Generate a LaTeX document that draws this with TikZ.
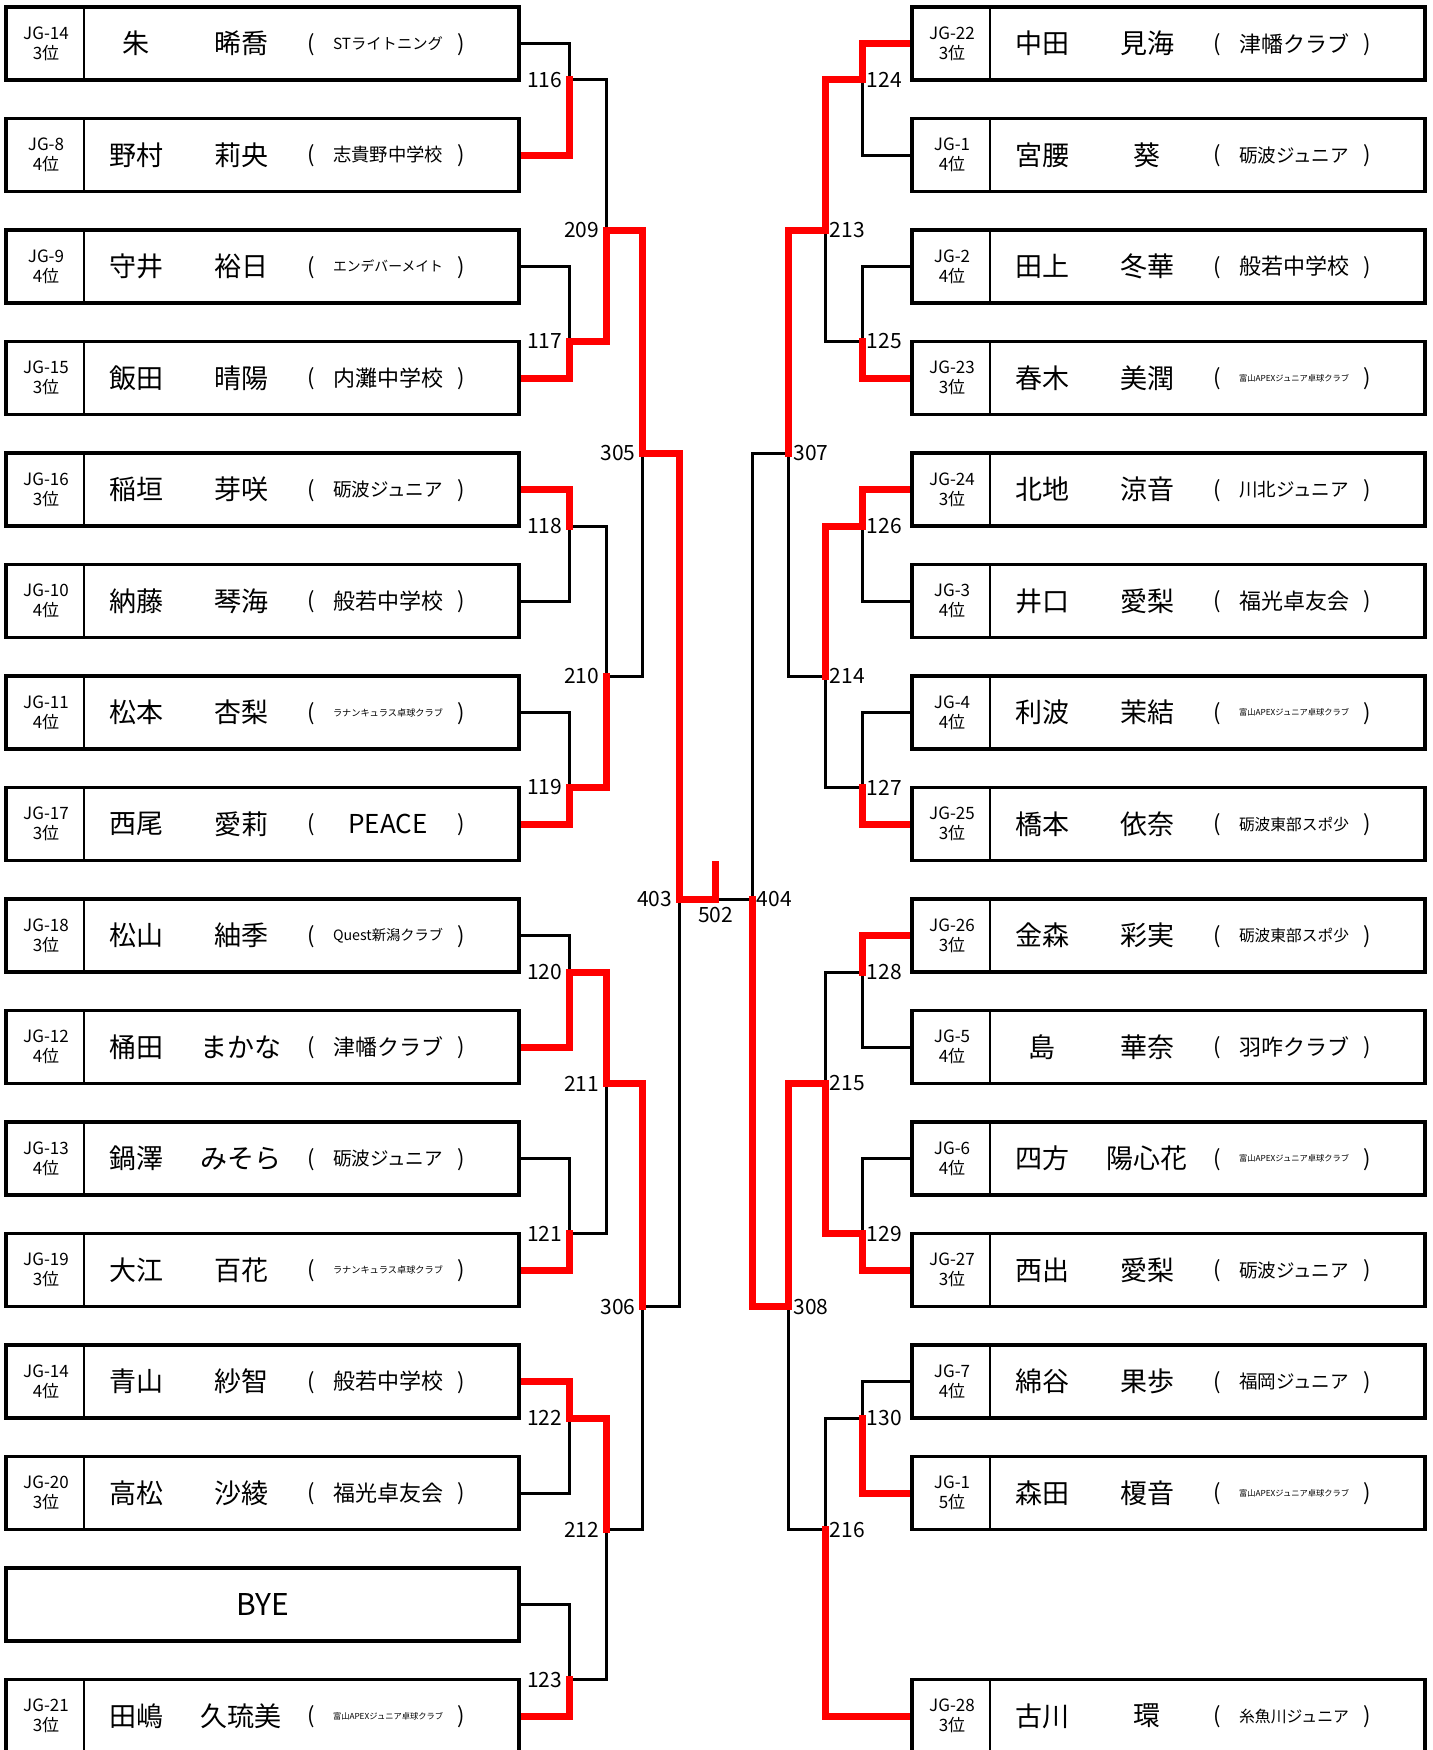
\documentclass[tikz,border=0pt]{standalone}
\usepackage{fontspec}
\setmainfont{Noto Sans CJK JP}
\usepackage{graphicx}
\usetikzlibrary{calc}
\pgfdeclarelayer{bg}
\pgfsetlayers{bg,main}
\newsavebox\clubsbox
\newlength\clubmaxw
\setlength\clubmaxw{55pt}
\newcommand\clubfit[1]{\sbox\clubsbox{#1}\ifdim\wd\clubsbox>\clubmaxw\resizebox{\clubmaxw}{!}{\usebox\clubsbox}\else\usebox\clubsbox\fi}
\newcommand\plbox[8]{%
  \node[pbox] (#3) at ({#1+256.5},#2) {};
  \draw[divline] ([xshift=39pt]#3.north west) -- ([xshift=39pt]#3.south west);
  \node[jgtext] (#3jg) at ({#1+40},#2) {#4\\#5};
  \node[nametext] (#3sur) at ({#1+130},#2) {#6};
  \node[nametext] (#3giv) at ({#1+235},#2) {#7};
  \node[parentext] (#3lp) at ({#1+305},{#2+1}) {(};
  \node[parentext] (#3rp) at ({#1+455},{#2+1}) {)};
  \node[clubtext] (#3club) at ({#1+382},#2) {\clubfit{#8}};
}
\begin{document}
\begin{tikzpicture}[x=0.5pt,y=-0.5pt,
  pbox/.style={draw, line width=1.75pt, minimum width=256.5pt, minimum height=36.5pt, inner sep=0pt, outer sep=0pt, fill=white},
  divline/.style={line width=0.75pt},
  jgtext/.style={align=center, inner sep=0pt, font=\fontsize{8.5}{10}\selectfont},
  nametext/.style={inner sep=0pt, font=\fontsize{13.5}{15}\selectfont},
  parentext/.style={inner sep=0pt, font=\fontsize{11}{13}\selectfont},
  clubtext/.style={inner sep=0pt, font=\fontsize{13}{15}\selectfont},
  byetext/.style={inner sep=0pt, font=\fontsize{15}{17}\selectfont},
  lose/.style={line width=1.5pt, black, line cap=rect},
  win/.style={line width=3.5pt, red, line cap=rect, line join=miter},
  lblL/.style={anchor=east, inner sep=0pt, xshift=-3.25pt, font=\fontsize{10.5}{12}\selectfont},
  lblR/.style={anchor=west, inner sep=0pt, xshift=2.25pt, font=\fontsize{10.5}{12}\selectfont}]
\useasboundingbox (0,0) rectangle (1432,1750);
% left side
\plbox{6}{43.5}{L1}{JG-14}{3位}{朱}{晞喬}{STライトニング}
\plbox{6}{155}{L2}{JG-8}{4位}{野村}{莉央}{志貴野中学校}
\plbox{6}{266.5}{L3}{JG-9}{4位}{守井}{裕日}{エンデバーメイト}
\plbox{6}{378}{L4}{JG-15}{3位}{飯田}{晴陽}{内灘中学校}
\plbox{6}{489.5}{L5}{JG-16}{3位}{稲垣}{芽咲}{砺波ジュニア}
\plbox{6}{601}{L6}{JG-10}{4位}{納藤}{琴海}{般若中学校}
\plbox{6}{712.5}{L7}{JG-11}{4位}{松本}{杏梨}{ラナンキュラス卓球クラブ}
\plbox{6}{824}{L8}{JG-17}{3位}{西尾}{愛莉}{PEACE}
\plbox{6}{935.5}{L9}{JG-18}{3位}{松山}{紬季}{Quest新潟クラブ}
\plbox{6}{1047}{L10}{JG-12}{4位}{桶田}{まかな}{津幡クラブ}
\plbox{6}{1158.5}{L11}{JG-13}{4位}{鍋澤}{みそら}{砺波ジュニア}
\plbox{6}{1270}{L12}{JG-19}{3位}{大江}{百花}{ラナンキュラス卓球クラブ}
\plbox{6}{1381.5}{L13}{JG-14}{4位}{青山}{紗智}{般若中学校}
\plbox{6}{1493}{L14}{JG-20}{3位}{高松}{沙綾}{福光卓友会}
\node[pbox] (L15) at (262.5,1604.5) {};
\node[byetext] (L15t) at (L15) {BYE};
\plbox{6}{1716}{L16}{JG-21}{3位}{田嶋}{久琉美}{富山APEXジュニア卓球クラブ}
% right side
\plbox{912}{43.5}{R1}{JG-22}{3位}{中田}{見海}{津幡クラブ}
\plbox{912}{155}{R2}{JG-1}{4位}{宮腰}{葵}{砺波ジュニア}
\plbox{912}{266.5}{R3}{JG-2}{4位}{田上}{冬華}{般若中学校}
\plbox{912}{378}{R4}{JG-23}{3位}{春木}{美潤}{富山APEXジュニア卓球クラブ}
\plbox{912}{489.5}{R5}{JG-24}{3位}{北地}{涼音}{川北ジュニア}
\plbox{912}{601}{R6}{JG-3}{4位}{井口}{愛梨}{福光卓友会}
\plbox{912}{712.5}{R7}{JG-4}{4位}{利波}{茉結}{富山APEXジュニア卓球クラブ}
\plbox{912}{824}{R8}{JG-25}{3位}{橋本}{依奈}{砺波東部スポ少}
\plbox{912}{935.5}{R9}{JG-26}{3位}{金森}{彩実}{砺波東部スポ少}
\plbox{912}{1047}{R10}{JG-5}{4位}{島}{華奈}{羽咋クラブ}
\plbox{912}{1158.5}{R11}{JG-6}{4位}{四方}{陽心花}{富山APEXジュニア卓球クラブ}
\plbox{912}{1270}{R12}{JG-27}{3位}{西出}{愛梨}{砺波ジュニア}
\plbox{912}{1381.5}{R13}{JG-7}{4位}{綿谷}{果歩}{福岡ジュニア}
\plbox{912}{1493}{R14}{JG-1}{5位}{森田}{榎音}{富山APEXジュニア卓球クラブ}
\plbox{912}{1716}{R16}{JG-28}{3位}{古川}{環}{糸魚川ジュニア}
% junctions
\coordinate (m116) at (569,80);
\coordinate (m117) at (569,341.5);
\coordinate (m118) at (569,526);
\coordinate (m119) at (569,787.5);
\coordinate (m120) at (569,972);
\coordinate (m121) at (569,1233.5);
\coordinate (m122) at (569,1418);
\coordinate (m123) at (569,1679.5);
\coordinate (m209) at (606,230);
\coordinate (m210) at (606,676);
\coordinate (m211) at (606,1083.5);
\coordinate (m212) at (606,1529.5);
\coordinate (m305) at (642.5,453);
\coordinate (m306) at (642.5,1306.5);
\coordinate (m403) at (679,899);
\coordinate (f502) at (715.5,899);
\coordinate (f502top) at (715.5,864);
\coordinate (m124) at (862,80);
\coordinate (m125) at (862,341.5);
\coordinate (m126) at (862,526);
\coordinate (m127) at (862,787.5);
\coordinate (m128) at (862,972);
\coordinate (m129) at (862,1233.5);
\coordinate (m130) at (862,1418);
\coordinate (m213) at (825,230);
\coordinate (m214) at (825,676);
\coordinate (m215) at (825,1083.5);
\coordinate (m216) at (825,1529.5);
\coordinate (m307) at (788.5,453);
\coordinate (m308) at (788.5,1306.5);
\coordinate (m404) at (752,899);
% labels
\foreach \n in {116,117,118,119,120,121,122,123,209,210,211,212,305,306,403}
  \node[lblL] (t\n) at (m\n) {\n};
\foreach \n in {124,125,126,127,128,129,130,213,214,215,216,307,308,404}
  \node[lblR] (t\n) at (m\n) {\n};
\node[anchor=north, inner sep=0pt, yshift=-4pt, font=\fontsize{10.5}{12}\selectfont] (t502) at (f502) {502};
\begin{pgfonlayer}{bg}
% losing lines
\draw[lose] (L1.east) -| (m116);
\draw[lose] (L3.east) -| (m117);
\draw[lose] (L6.east) -| (m118);
\draw[lose] (L7.east) -| (m119);
\draw[lose] (L9.east) -| (m120);
\draw[lose] (L11.east) -| (m121);
\draw[lose] (L14.east) -| (m122);
\draw[lose] (L15.east) -| (m123);
\draw[lose] (m116) -| (m209);
\draw[lose] (m118) -| (m210);
\draw[lose] (m121) -| (m211);
\draw[lose] (m123) -| (m212);
\draw[lose] (m210) -| (m305);
\draw[lose] (m212) -| (m306);
\draw[lose] (m306) -| (m403);
\draw[lose] (R2.west) -| (m124);
\draw[lose] (R3.west) -| (m125);
\draw[lose] (R6.west) -| (m126);
\draw[lose] (R7.west) -| (m127);
\draw[lose] (R10.west) -| (m128);
\draw[lose] (R11.west) -| (m129);
\draw[lose] (R13.west) -| (m130);
\draw[lose] (m125) -| (m213);
\draw[lose] (m127) -| (m214);
\draw[lose] (m128) -| (m215);
\draw[lose] (m130) -| (m216);
\draw[lose] (m214) -| (m307);
\draw[lose] (m216) -| (m308);
\draw[lose] (m307) -| (m404);
\draw[lose] (m404) -- (f502);
% winning lines
\draw[win] (L2.east) -| (m116);
\draw[win] (L4.east) -| (m117);
\draw[win] (L5.east) -| (m118);
\draw[win] (L8.east) -| (m119);
\draw[win] (L10.east) -| (m120);
\draw[win] (L12.east) -| (m121);
\draw[win] (L13.east) -| (m122);
\draw[win] (L16.east) -| (m123);
\draw[win] (m117) -| (m209);
\draw[win] (m119) -| (m210);
\draw[win] (m120) -| (m211);
\draw[win] (m122) -| (m212);
\draw[win] (m209) -| (m305);
\draw[win] (m211) -| (m306);
\draw[win] (m305) -| (m403);
\draw[win] (m403) -- (f502) -- (f502top);
\draw[win] (R1.west) -| (m124);
\draw[win] (R4.west) -| (m125);
\draw[win] (R5.west) -| (m126);
\draw[win] (R8.west) -| (m127);
\draw[win] (R9.west) -| (m128);
\draw[win] (R12.west) -| (m129);
\draw[win] (R14.west) -| (m130);
\draw[win] (R16.west) -| (m216);
\draw[win] (m124) -| (m213);
\draw[win] (m126) -| (m214);
\draw[win] (m129) -| (m215);
\draw[win] (m213) -| (m307);
\draw[win] (m215) -| (m308);
\draw[win] (m308) -| (m404);
\end{pgfonlayer}
\end{tikzpicture}
\end{document}
